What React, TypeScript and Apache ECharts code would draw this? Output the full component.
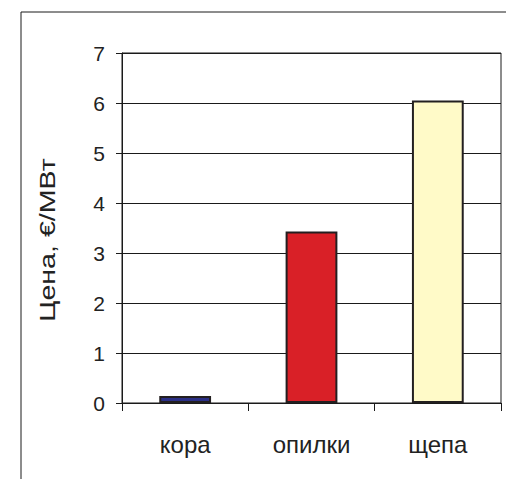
import React, { useEffect, useRef } from "react";
import * as echarts from "echarts";

const categories = ["кора", "опилки", "щепа"];
const values = [0.14, 3.43, 6.05];
const barColors = ["#2b2f86", "#d92027", "#fffac8"];
const yAxisTitle = "Цена, €/МВт";

export default function App() {
  const ref = useRef<HTMLDivElement>(null);
  useEffect(() => {
    const chart = echarts.init(ref.current!, null, { renderer: "svg" });
    const font = "'Liberation Sans', Arial, sans-serif";
    chart.setOption({
      animation: false,
      backgroundColor: "#ffffff",
      grid: {
        left: 122,
        top: 53,
        right: 5,
        bottom: 76,
        show: true,
        borderColor: "#1a1a1a",
        borderWidth: 1,
        containLabel: false,
      },
      xAxis: {
        type: "category",
        data: categories,
        boundaryGap: true,
        axisLine: { show: true, lineStyle: { color: "#1a1a1a", width: 1 } },
        axisTick: { show: true, alignWithLabel: false, length: 8, lineStyle: { color: "#1a1a1a" } },
        axisLabel: { margin: 29, fontSize: 24, color: "#222", fontFamily: font },
        splitLine: { show: false },
      },
      yAxis: {
        type: "value",
        min: 0,
        max: 7,
        interval: 1,
        axisLine: { show: true, lineStyle: { color: "#1a1a1a", width: 1 } },
        axisTick: { show: true, length: 6, lineStyle: { color: "#1a1a1a" } },
        axisLabel: { margin: 17, fontSize: 21, color: "#222", fontFamily: font },
        splitLine: { show: true, lineStyle: { color: "#1a1a1a", width: 1 } },
      },
      series: [
        {
          type: "bar",
          data: values.map((v, i) => ({
            value: v,
            itemStyle: { color: barColors[i] },
          })),
          barWidth: "41%",
          itemStyle: { borderColor: "#231f20", borderWidth: 2 },
        },
      ],
      graphic: [
        {
          type: "line",
          shape: { x1: 21, y1: 12, x2: 506, y2: 12 },
          style: { stroke: "#1a1a1a", lineWidth: 1 },
        },
        {
          type: "line",
          shape: { x1: 21, y1: 12, x2: 21, y2: 479 },
          style: { stroke: "#1a1a1a", lineWidth: 1 },
        },
        {
          type: "text",
          x: 47,
          y: 240,
          rotation: Math.PI / 2,
          scaleX: 1.3,
          style: {
            text: yAxisTitle,
            fontSize: 22,
            fontFamily: font,
            fill: "#222",
            align: "center",
            verticalAlign: "middle",
          },
        },
      ],
    });
    return () => chart.dispose();
  }, []);
  return (
    <div
      ref={ref}
      style={{ position: "fixed", left: 0, top: 0, width: 506, height: 479 }}
    />
  );
}
